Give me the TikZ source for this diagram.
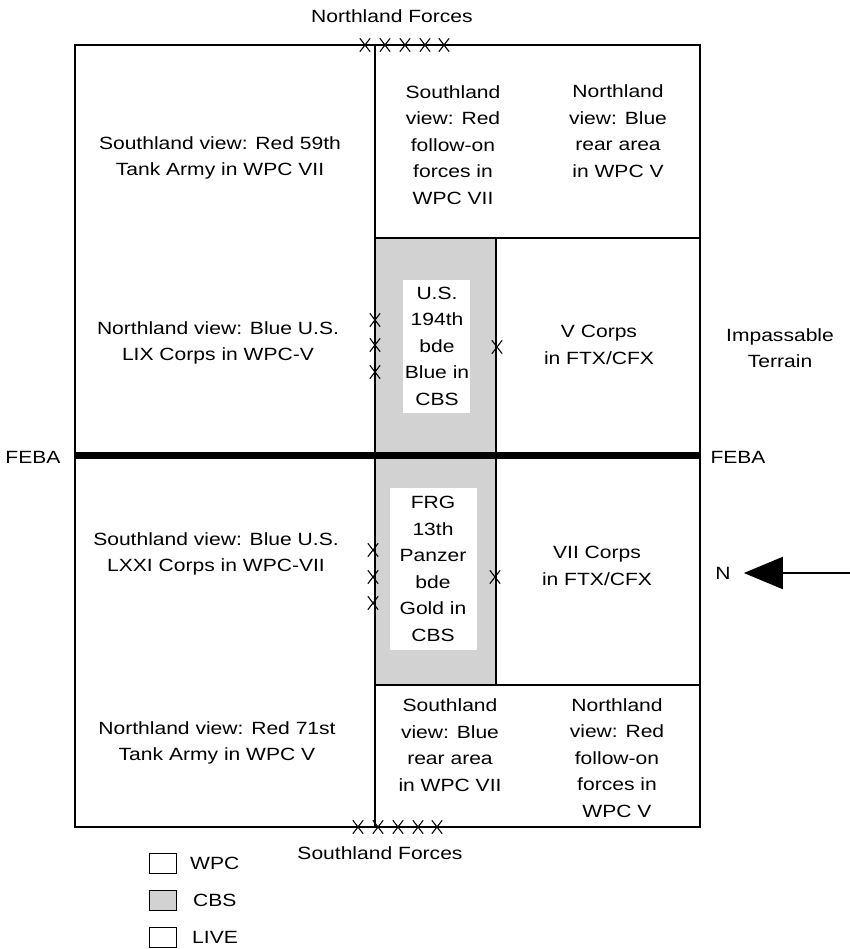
\documentclass[tikz,border=0pt]{standalone}
\usepackage{fontspec}
\setmainfont{Liberation Sans}
\usetikzlibrary{arrows.meta}

\begin{document}
\begin{tikzpicture}[x=1pt,y=-1pt,line cap=round,
  lbl/.style={align=center,inner sep=0pt,xscale=1.19,font=\fontsize{17.7}{26.5}\selectfont},
  frame/.style={line width=1.6pt},
  legbox/.style={draw,line width=0.8pt,minimum width=27pt,minimum height=20pt,inner sep=0pt},
  xmark/.pic={\draw[line width=1.1pt] (-5,-6.5) -- (5,6.5) (-5,6.5) -- (5,-6.5);}]
\useasboundingbox (0,0) rectangle (850,949);
% CBS strip with white text panels
\fill[gray!35] (375,238) rectangle (496,685);
\fill[white] (403,280) rectangle (470,413);
\fill[white] (390,488) rectangle (477,650);
% map outline
\draw[frame] (75,45) rectangle (700,827);
\draw[frame] (375,45) -- (375,827);
\draw[frame] (375,238) -- (700,238);
\draw[frame] (375,685) -- (700,685);
\draw[frame] (496,238) -- (496,685);
\draw[line width=7pt,line cap=butt] (75,455) -- (700,455);
% unit markers
\foreach \x in {365,385,405,425,444} \pic at (\x,45) {xmark};
\foreach \x in {358,378,398,418,437} \pic at (\x,827) {xmark};
\foreach \y in {320,345,372} \pic at (375,\y) {xmark};
\foreach \y in {550,577,603} \pic at (373,\y) {xmark};
\pic at (497,347) {xmark};
\pic at (495,577) {xmark};
% left column
\node[lbl] (svred) at (220,158) {Southland view: Red 59th\\Tank Army in WPC VII};
\node[lbl] (nvblue) at (218,343) {Northland view: Blue U.S.\\LIX Corps in WPC-V};
\node[lbl] (svblue) at (216,554) {Southland view: Blue U.S.\\LXXI Corps in WPC-VII};
\node[lbl] (nvred) at (217,743) {Northland view: Red 71st\\Tank Army in WPC V};
% right column
\node[lbl] (svfollow) at (453,145) {Southland\\view: Red\\follow-on\\forces in\\WPC VII};
\node[lbl] (nvrear) at (618,131) {Northland\\view: Blue\\rear area\\in WPC V};
\node[lbl] (usbde) at (437,346) {U.S.\\194th\\bde\\Blue in\\CBS};
\node[lbl] (vcorps) at (599,345) {V Corps\\in FTX/CFX};
\node[lbl] (frgbde) at (433,569) {FRG\\13th\\Panzer\\bde\\Gold in\\CBS};
\node[lbl] (viicorps) at (597,566) {VII Corps\\in FTX/CFX};
\node[lbl] (svrear) at (450,745) {Southland\\view: Blue\\rear area\\in WPC VII};
\node[lbl] (nvfollow) at (617,758) {Northland\\view: Red\\follow-on\\forces in\\WPC V};
% outside labels
\node[lbl] (nforces) at (392,16) {Northland Forces};
\node[lbl] (sforces) at (380,853) {Southland Forces};
\node[lbl] (febaw) at (33,457) {FEBA};
\node[lbl] (febae) at (738,457) {FEBA};
\node[lbl] (terrain) at (780,348) {Impassable\\Terrain};
\node[lbl] (north) at (723,573) {N};
\coordinate (arrowtail) at (850,573);
\draw[line width=2pt,line cap=butt,-{Triangle[length=39pt,width=32pt]},shorten >=13pt] (arrowtail) -- (north.east);
% legend
\node[legbox] (wpcbox) at (163,863) {};
\node[legbox,fill=gray!35] (cbsbox) at (163,900) {};
\node[legbox] (livebox) at (163,937) {};
\node[lbl,anchor=west] (wpctxt) at (190,863) {WPC};
\node[lbl,anchor=west] (cbstxt) at (193,900) {CBS};
\node[lbl,anchor=west] (livetxt) at (192,937) {LIVE};
\end{tikzpicture}
\end{document}
